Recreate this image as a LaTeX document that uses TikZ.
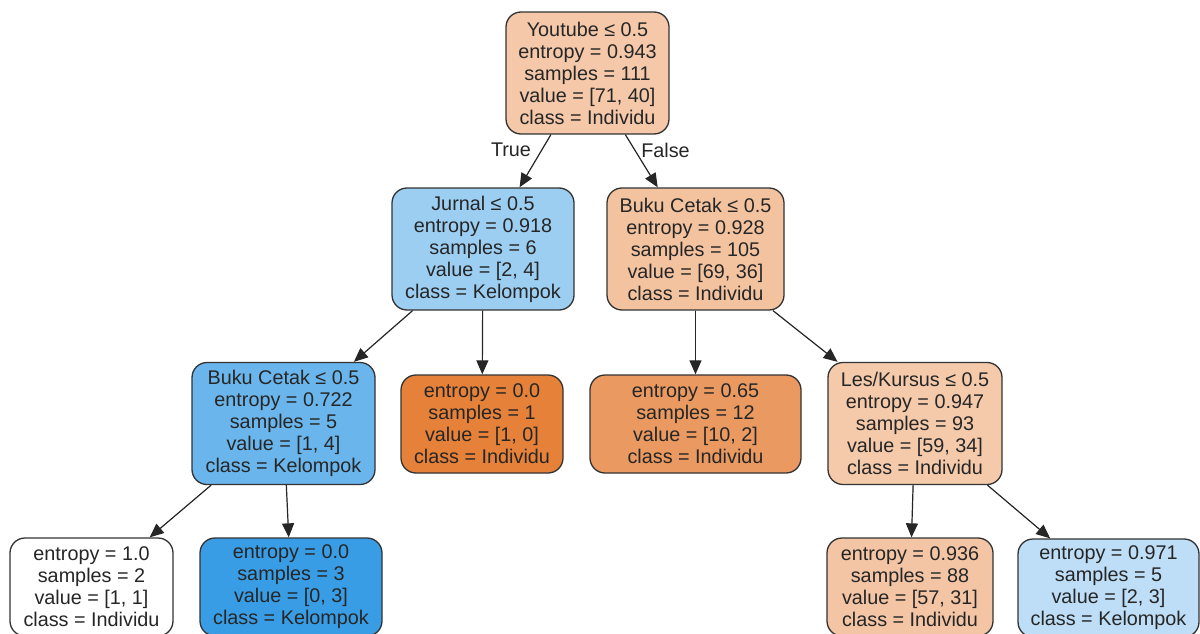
\documentclass[tikz,border=0pt]{standalone}
\usepackage{fontspec}
\setmainfont{Liberation Sans}
\usepackage{xcolor}
\usepackage{tikz}
\usetikzlibrary{arrows.meta}

\definecolor{cRoot}{HTML}{F4C8A9}
\definecolor{cBuku}{HTML}{F3C3A0}
\definecolor{cLes}{HTML}{F4CAAB}
\definecolor{cIndA}{HTML}{F3C5A5}
\definecolor{cIndB}{HTML}{EA9A61}
\definecolor{cIndC}{HTML}{E58139}
\definecolor{cJurnal}{HTML}{9CCEF2}
\definecolor{cKelA}{HTML}{6AB6EC}
\definecolor{cKelB}{HTML}{399DE5}
\definecolor{cKelC}{HTML}{BDDEF6}

\tikzset{
  treenode/.style={draw=black!80, line width=1.3pt, rounded corners=15pt,
    align=center, inner sep=0pt, text=black!85,
    font=\fontsize{19.8}{22}\selectfont},
  split/.style={treenode, minimum height=122pt},
  leaf/.style={treenode, minimum height=98pt},
  branch/.style={-{Triangle[length=14pt,width=12pt]}, line width=1.2pt, draw=black!85, fill=black},
  tflabel/.style={font=\fontsize{19.8}{22}\selectfont, text=black!85}
}

\begin{document}
\begin{tikzpicture}[x=1pt, y=-1pt]
	\useasboundingbox (0,0) rectangle (1200,634);
	% splits
	\node[split, fill=cRoot, minimum width=163pt] (youtube) at (587.5,73)
	  {Youtube ≤ 0.5\\entropy = 0.943\\samples = 111\\value = [71, 40]\\class = Individu};
	\node[split, fill=cJurnal, minimum width=182pt] (jurnal) at (483,249)
	  {Jurnal ≤ 0.5\\entropy = 0.918\\samples = 6\\value = [2, 4]\\class = Kelompok};
	\node[split, fill=cBuku, minimum width=177pt] (bukuF) at (695.5,249)
	  {Buku Cetak ≤ 0.5\\entropy = 0.928\\samples = 105\\value = [69, 36]\\class = Individu};
	\node[split, fill=cKelA, minimum width=183pt] (bukuT) at (283.5,423.5)
	  {Buku Cetak ≤ 0.5\\entropy = 0.722\\samples = 5\\value = [1, 4]\\class = Kelompok};
	\node[split, fill=cLes, minimum width=174pt] (les) at (915,423.5)
	  {Les/Kursus ≤ 0.5\\entropy = 0.947\\samples = 93\\value = [59, 34]\\class = Individu};
	% leaves
	\node[leaf, fill=cIndC, minimum width=162pt] (leafA) at (482,424)
	  {entropy = 0.0\\samples = 1\\value = [1, 0]\\class = Individu};
	\node[leaf, fill=cIndB, minimum width=211pt] (leafB) at (695.5,424)
	  {entropy = 0.65\\samples = 12\\value = [10, 2]\\class = Individu};
	\node[leaf, fill=white, minimum width=163pt] (leafC) at (91.5,587)
	  {entropy = 1.0\\samples = 2\\value = [1, 1]\\class = Individu};
	\node[leaf, fill=cKelB, minimum width=182pt] (leafD) at (291,587)
	  {entropy = 0.0\\samples = 3\\value = [0, 3]\\class = Kelompok};
	\node[leaf, fill=cIndA, minimum width=166pt] (leafE) at (910,587)
	  {entropy = 0.936\\samples = 88\\value = [57, 31]\\class = Individu};
	\node[leaf, fill=cKelC, minimum width=181pt] (leafF) at (1108.5,588)
	  {entropy = 0.971\\samples = 5\\value = [2, 3]\\class = Kelompok};
	% branches
	\draw[branch] (youtube) -- (jurnal);
	\draw[branch] (youtube) -- (bukuF);
	\draw[branch] (jurnal) -- (bukuT);
	\draw[branch] (jurnal) -- (leafA);
	\draw[branch] (bukuF) -- (leafB);
	\draw[branch] (bukuF) -- (les);
	\draw[branch] (bukuT) -- (leafC);
	\draw[branch] (bukuT) -- (leafD);
	\draw[branch] (les) -- (leafE);
	\draw[branch] (les) -- (leafF);
	\node[tflabel] (true) at (511,150) {True};
	\node[tflabel] (false) at (665.5,150) {False};
\end{tikzpicture}
\end{document}
